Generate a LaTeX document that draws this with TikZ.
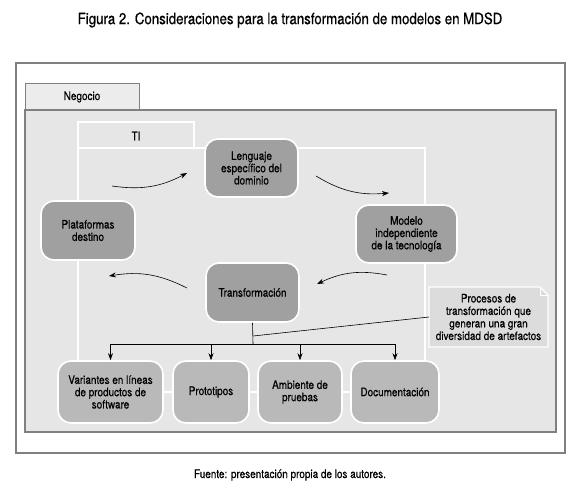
\documentclass[tikz,border=0pt]{standalone}
\usepackage{fontspec}
\setmainfont{TeX Gyre Heros}[FakeStretch=0.85, FakeBold=0.6]
\usetikzlibrary{arrows.meta}
\usetikzlibrary{positioning}

\definecolor{marco}{HTML}{808080}
\definecolor{fondo}{HTML}{E6E6E7}
\definecolor{pestana}{HTML}{ECECEC}
\definecolor{cajaosc}{HTML}{A0A0A0}
\definecolor{cajaclara}{HTML}{B9B9B9}
\definecolor{nota}{HTML}{DCDCDC}

\tikzset{
  texto/.style={font=\fontsize{11.7}{12.3}\selectfont},
  caja/.style={texto, draw=white, line width=1.6pt, rounded corners=13pt, align=center, inner sep=2pt},
  cajaciclo/.style={caja, fill=cajaosc},
  cajafinal/.style={caja, fill=cajaclara, minimum height=62pt},
  ciclo/.style={-{Stealth[length=7pt,width=5pt]}, line width=0.6pt, bend right=18},
  bajada/.style={-{Stealth[length=7pt,width=5pt]}, line width=0.6pt},
}

\begin{document}
\begin{tikzpicture}[x=1pt,y=-1pt]
        \useasboundingbox (0,0) rectangle (580,491);
        \node[font=\fontsize{15.6}{18}\selectfont] (titulo) at (290,20) {Figura 2. Consideraciones para la transformación de modelos en MDSD};
        \draw[marco, line width=1.4pt] (16,63) rectangle (565,453);
        % Negocio
        \draw[marco, fill=pestana, line width=1pt] (25,83) rectangle (139,110);
        \node[texto] (negocio) at (82,97) {Negocio};
        \draw[marco, fill=fondo, line width=1.2pt] (25,110) rectangle (556,432);
        % TI
        \draw[white, line width=2.2pt] (78,148) rectangle (425,392);
        \draw[white, line width=2.2pt] (78,122) rectangle (194,148);
        \node[texto] (ti) at (136,136) {TI};
        % ciclo
        \node[cajaciclo, minimum width=93pt, minimum height=58pt] (leng) at (251.5,168) {Lenguaje\\específico del\\dominio};
        \node[cajaciclo, minimum width=101pt, minimum height=58pt] (modelo) at (406.5,234) {Modelo\\independiente\\de la tecnología};
        \node[cajaciclo, minimum width=93pt, minimum height=59pt] (trans) at (252.5,292.5) {Transformación};
        \node[cajaciclo, minimum width=94pt, minimum height=59pt] (plat) at (88,230.5) {Plataformas\\destino};
        \coordinate (c1) at (112,186);
        \coordinate (c2) at (187,173);
        \coordinate (c3) at (316,176);
        \coordinate (c4) at (389,193);
        \coordinate (c5) at (387,275);
        \coordinate (c6) at (317,284);
        \coordinate (c7) at (187,288);
        \coordinate (c8) at (109,276);
        \draw[ciclo] (c1) to (c2);
        \draw[ciclo] (c3) to (c4);
        \draw[ciclo] (c5) to (c6);
        \draw[ciclo] (c7) to (c8);
        % artefactos
        \node[cajafinal, minimum width=105pt] (var) at (110.5,392) {Variantes en líneas\\de productos de\\software};
        \node[cajafinal, minimum width=76pt] (proto) at (211,392) {Prototipos};
        \node[cajafinal, minimum width=84pt] (amb) at (300,392) {Ambiente de\\pruebas};
        \node[cajafinal, minimum width=88pt] (doc) at (395,392) {Documentación};
        \coordinate (bus) at (253,344);
        \coordinate (union) at (253,336);
        \draw[line width=0.6pt] (trans.south) -- (bus);
        \draw[line width=0.6pt] (var.north |- bus) -- (doc.north |- bus);
        \foreach \b in {var,proto,amb,doc}
            \draw[bajada] (\b.north |- bus) -- (\b.north);
        % nota
        \draw[white, fill=nota, line width=1.4pt] (429,287) -- (540,287) -- (548,295) -- (548,347) -- (429,347) -- cycle;
        \draw[white, line width=0.8pt] (540,287) -- (540,295) -- (548,295);
        \node[texto, align=center, font=\fontsize{11.7}{12.5}\selectfont] (nota) at (488.5,317) {Procesos de\\transformación que\\generan una gran\\diversidad de artefactos};
        \draw[line width=0.6pt] (nota.west -| 429,0) -- (union);
        \node[texto] (fuente) at (290,475) {Fuente: presentación propia de los autores.};
\end{tikzpicture}
\end{document}
